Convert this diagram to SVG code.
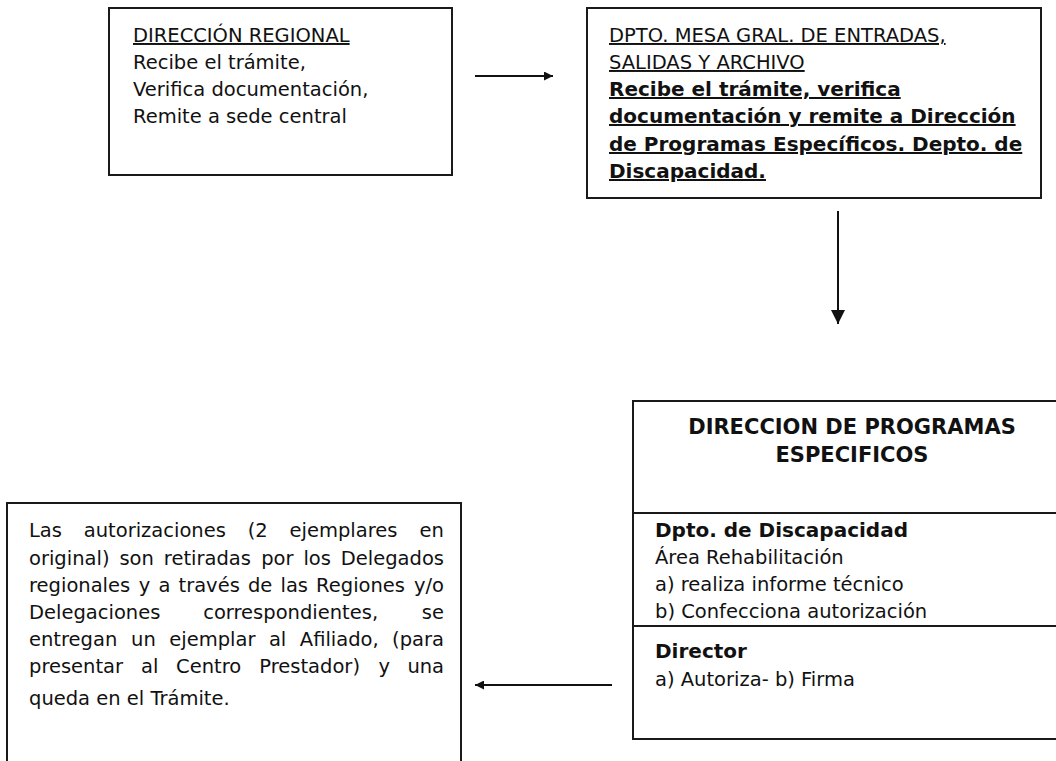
<svg xmlns="http://www.w3.org/2000/svg" width="1056" height="761" viewBox="0 0 1056 761">
<style>
.box{fill:#fff;stroke:#1a1a1a;stroke-width:2}
.div{stroke:#1a1a1a;stroke-width:2}
text{font-family:"DejaVu Sans","Liberation Sans",sans-serif;font-size:19.5px;fill:#111}
.b{font-weight:bold;font-size:20px}
.h{font-weight:bold;font-size:21px}
.u{text-decoration:underline}
.c{text-anchor:middle}
.conn{stroke:#111;stroke-width:2;fill:none}
</style>
<defs>
<marker id="ah" viewBox="0 0 10 10" refX="10" refY="5" markerWidth="10" markerHeight="9" markerUnits="userSpaceOnUse" orient="auto">
<path d="M0,0 L10,5 L0,10 z" fill="#111"/>
</marker>
<marker id="ahBig" viewBox="0 0 10 10" refX="10" refY="5" markerWidth="17" markerHeight="14" markerUnits="userSpaceOnUse" orient="auto">
<path d="M0,0 L10,5 L0,10 z" fill="#111"/>
</marker>
</defs>
<rect width="1056" height="761" fill="#fff"/>
<g id="regional">
<rect class="box" x="109" y="8" width="343" height="167"/>
<text x="133" y="42" class="u">DIRECCIÓN REGIONAL</text>
<text x="133" y="69">Recibe el trámite,</text>
<text x="133" y="96">Verifica documentación,</text>
<text x="133" y="123">Remite a sede central</text>
</g>
<g id="mesa">
<rect class="box" x="587" y="8" width="454" height="190"/>
<text x="609" y="42" class="u">DPTO. MESA GRAL. DE ENTRADAS,</text>
<text x="609" y="69" class="u">SALIDAS Y ARCHIVO</text>
<text x="609" y="96" class="b u">Recibe el trámite, verifica</text>
<text x="609" y="123" class="b u">documentación y remite a Dirección</text>
<text x="609" y="151" class="b u">de Programas Específicos. Depto. de</text>
<text x="609" y="178" class="b u">Discapacidad.</text>
</g>
<g id="programas">
<rect class="box" x="633" y="401" width="440" height="338"/>
<line class="div" x1="633" y1="513" x2="1073" y2="513"/>
<line class="div" x1="633" y1="626" x2="1073" y2="626"/>
<text x="852" y="434" class="h c">DIRECCION DE PROGRAMAS</text>
<text x="852" y="462" class="h c">ESPECIFICOS</text>
<text x="655" y="537" class="b">Dpto. de Discapacidad</text>
<text x="655" y="564">Área Rehabilitación</text>
<text x="655" y="591">a) realiza informe técnico</text>
<text x="655" y="618">b) Confecciona autorización</text>
<text x="655" y="658" class="b">Director</text>
<text x="655" y="686">a) Autoriza- b) Firma</text>
</g>
<g id="autorizaciones">
<rect class="box" x="7" y="503" width="454" height="270"/>
<text y="537"><tspan x="29">Las</tspan><tspan x="83.8">autorizaciones</tspan><tspan x="247.7">(2</tspan><tspan x="289.5">ejemplares</tspan><tspan x="419.6">en</tspan></text>
<text y="565"><tspan x="29">original)</tspan><tspan x="119.4">son</tspan><tspan x="163.8">retiradas</tspan><tspan x="261.2">por</tspan><tspan x="303.4">los</tspan><tspan x="340.8">Delegados</tspan></text>
<text y="592"><tspan x="29">regionales</tspan><tspan x="138.7">y</tspan><tspan x="158.4">a</tspan><tspan x="178.5">través</tspan><tspan x="247.9">de</tspan><tspan x="280.5">las</tspan><tspan x="316.1">Regiones</tspan><tspan x="414">y/o</tspan></text>
<text y="619"><tspan x="29">Delegaciones</tspan><tspan x="203.2">correspondientes,</tspan><tspan x="421.8">se</tspan></text>
<text y="646"><tspan x="29">entregan</tspan><tspan x="131.1">un</tspan><tspan x="169.3">ejemplar</tspan><tspan x="268.9">al</tspan><tspan x="299.8">Afiliado,</tspan><tspan x="392.1">(para</tspan></text>
<text y="673"><tspan x="29">presentar</tspan><tspan x="141.1">al</tspan><tspan x="176.1">Centro</tspan><tspan x="259.3">Prestador)</tspan><tspan x="378.4">y</tspan><tspan x="407.4">una</tspan></text>
<text x="29" y="705">queda en el Trámite.</text>
</g>
<g id="connectors">
<line class="conn" x1="475" y1="76" x2="553" y2="76" marker-end="url(#ah)"/>
<line class="conn" x1="838" y1="211" x2="838" y2="324" marker-end="url(#ahBig)"/>
<line class="conn" x1="612" y1="685" x2="475" y2="685" marker-end="url(#ah)"/>
</g>
</svg>
